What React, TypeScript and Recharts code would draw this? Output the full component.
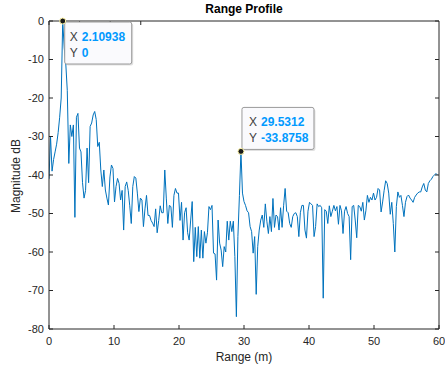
import React from 'react';
import { LineChart, Line, XAxis, YAxis, ReferenceDot, Customized } from 'recharts';

const RANGE_STEP_M = 0.234375;

const MAGNITUDE_DB = [
  -41, -30, -39, -36, -34, -32, -29, -25, -20, 0,
  -7, -11, -18, -37, -27, -30, -27, -51, -25, -24,
  -33, -34, -42, -46, -44, -33, -42, -27.4, -26.5, -24.4,
  -23.5, -25.6, -32.6, -31.5, -38.7, -43, -38.7, -43.9, -46, -47.8,
  -40.5, -37.4, -38.3, -47, -43, -40.9, -42.2, -46.5, -44, -54.3,
  -43, -41.8, -44, -48, -52.6, -43, -40.4, -40.8, -44.7, -49.5,
  -46, -46.5, -53.4, -48.8, -45.3, -50.5, -50.5, -51.8, -52.5, -53.4,
  -48.8, -55, -51.8, -48, -49.8, -49.8, -38.7, -46, -52.6, -47.9,
  -48.2, -53.6, -45.3, -43.5, -44.7, -44.7, -51.8, -47.1, -56.9, -49.8,
  -48.5, -55, -56.9, -51.7, -46.9, -62.5, -53.6, -61.2, -53.4, -61.6,
  -54.3, -61.6, -54.7, -57.7, -55, -48.2, -49, -47.9, -60.3, -60.5,
  -67.3, -51.7, -57.7, -59.5, -63.8, -58.6, -60, -52, -56.9, -52,
  -54.7, -52, -61.2, -76.8, -56, -45.3, -33.8758, -44.7, -46.9, -47.9,
  -49.3, -49.8, -53.4, -54.7, -60.3, -56, -71, -58.6, -54.3, -51.7,
  -50.4, -53.6, -47.5, -52, -55.2, -50.8, -54.7, -46.1, -53.6, -50.4,
  -50.8, -54.3, -48.5, -53.6, -48, -43.5, -49.4, -49.8, -52.6, -53.6,
  -50.8, -50, -49.8, -50.8, -56, -49.8, -47.9, -47.9, -54.3, -56.4,
  -49.4, -47.1, -47.5, -47.9, -56, -53.4, -47.5, -48.2, -47.9, -48.5,
  -72, -49, -49.4, -52.6, -48, -50.8, -49.4, -47.9, -49.3, -48.2,
  -52.8, -47.9, -49.3, -55.2, -49.4, -48.2, -50, -50.8, -62, -48.2,
  -47.9, -51.7, -56.3, -47.9, -48.2, -49.4, -47.1, -51.7, -49.3, -45.3,
  -47.1, -45.8, -46.5, -44.7, -46.5, -45.8, -43.5, -43.9, -49.6, -47,
  -44, -41.5, -42.2, -44.7, -50.2, -47.1, -52.6, -60, -48.2, -44.4,
  -45.8, -45.3, -47.9, -50.8, -47.1, -45.6, -45.2, -46, -46.5, -47.1,
  -45.8, -45.2, -44.7, -44.4, -44.4, -43.1, -42.2, -43.9, -44.4, -42.2,
  -41.5, -41.1, -40.4, -40, -39.6, -40,
];

const X_TICKS = [0, 10, 20, 30, 40, 50, 60];
const Y_TICKS = [-80, -70, -60, -50, -40, -30, -20, -10, 0];

const TITLE = 'Range Profile';
const X_LABEL = 'Range (m)';
const Y_LABEL = 'Magnitude dB';

const TIP_INDICES = [9, 126];
const TIP_X_TEXT = ['2.10938', '29.5312'];
const TIP_Y_TEXT = ['0', '-33.8758'];
const TIP_PLACEMENT = ['below', 'above'];

const data = MAGNITUDE_DB.map((mag, i) => ({ range: i * RANGE_STEP_M, mag }));

const FONT = '"Liberation Sans", Arial, Helvetica, sans-serif';
const AXIS_COLOR = '#262626';
const LINE_COLOR = '#0072BD';
const TIP_VALUE_COLOR = '#0099FF';

function makeTipShape(idx: number) {
  return (props: any) => {
    const { cx, cy } = props;
    const below = TIP_PLACEMENT[idx] === 'below';
    const bx = cx + (below ? 2 : 1);
    const by = below ? cy + 1 : cy - 44;
    const bw = below ? 67 : 72;
    const bh = 42;
    const tx = below ? cx + 7 : cx + 8;
    const vx = below ? cx + 19 : cx + 20;
    const r1 = by + 19;
    const r2 = by + 35;
    return (
      <g>
        <rect x={bx + 1.5} y={by + 1.5} width={bw} height={bh} rx={2} fill="#000" fillOpacity={0.12} />
        <rect x={bx} y={by} width={bw} height={bh} rx={2} fill="#FAFAFD" stroke="#9a9a9a" strokeWidth={1} />
        <text x={tx} y={r1} fontFamily={FONT} fontSize={12} fill="#404040">X</text>
        <text x={vx} y={r1} fontFamily={FONT} fontSize={12} fontWeight="bold" fill={TIP_VALUE_COLOR}>{TIP_X_TEXT[idx]}</text>
        <text x={tx} y={r2} fontFamily={FONT} fontSize={12} fill="#404040">Y</text>
        <text x={vx} y={r2} fontFamily={FONT} fontSize={12} fontWeight="bold" fill={TIP_VALUE_COLOR}>{TIP_Y_TEXT[idx]}</text>
        <circle cx={cx} cy={cy} r={3} fill="#1a1a1a" stroke="#FFF6A8" strokeWidth={1} />
      </g>
    );
  };
}

const Labels = () => (
  <g fontFamily={FONT}>
    <text x={244} y={13} textAnchor="middle" fontSize={12} fontWeight="bold" fill="#000">{TITLE}</text>
    <text x={244} y={361} textAnchor="middle" fontSize={12} fill={AXIS_COLOR}>{X_LABEL}</text>
    <text x={20} y={176} textAnchor="middle" fontSize={12} fill={AXIS_COLOR} transform="rotate(-90 20 176)">{Y_LABEL}</text>
  </g>
);

const emptyTick = () => <g />;

export default function App() {
  return (
    <div style={{ position: 'absolute', left: 0, top: 0, width: 445, height: 371, background: '#fff' }}>
      <LineChart width={445} height={371} data={data} margin={{ top: 20, right: 5, bottom: 12, left: 9 }}>
        <XAxis
          xAxisId="b"
          dataKey="range"
          type="number"
          domain={[0, 60]}
          ticks={X_TICKS}
          allowDataOverflow
          height={30}
          tickSize={-4}
          tickMargin={12}
          stroke={AXIS_COLOR}
          tick={{ fill: AXIS_COLOR, fontSize: 11, fontFamily: FONT }}
        />
        <XAxis
          xAxisId="t"
          orientation="top"
          type="number"
          domain={[0, 60]}
          ticks={X_TICKS}
          allowDataOverflow
          height={1}
          tickSize={-4}
          stroke={AXIS_COLOR}
          tick={emptyTick}
        />
        <YAxis
          yAxisId="l"
          type="number"
          domain={[-80, 0]}
          ticks={Y_TICKS}
          allowDataOverflow
          width={40}
          tickSize={-4}
          tickMargin={9}
          stroke={AXIS_COLOR}
          tick={{ fill: AXIS_COLOR, fontSize: 11, fontFamily: FONT }}
        />
        <YAxis
          yAxisId="r"
          orientation="right"
          type="number"
          domain={[-80, 0]}
          ticks={Y_TICKS}
          allowDataOverflow
          width={1}
          tickSize={-4}
          stroke={AXIS_COLOR}
          tick={emptyTick}
        />
        <Line
          xAxisId="b"
          yAxisId="l"
          type="linear"
          dataKey="mag"
          stroke={LINE_COLOR}
          strokeWidth={1}
          dot={false}
          activeDot={false}
          isAnimationActive={false}
        />
        {TIP_INDICES.map((di, k) => (
          <ReferenceDot
            key={k}
            xAxisId="b"
            yAxisId="l"
            x={data[di].range}
            y={data[di].mag}
            ifOverflow="visible"
            shape={makeTipShape(k)}
          />
        ))}
        <Customized component={Labels} />
      </LineChart>
    </div>
  );
}
